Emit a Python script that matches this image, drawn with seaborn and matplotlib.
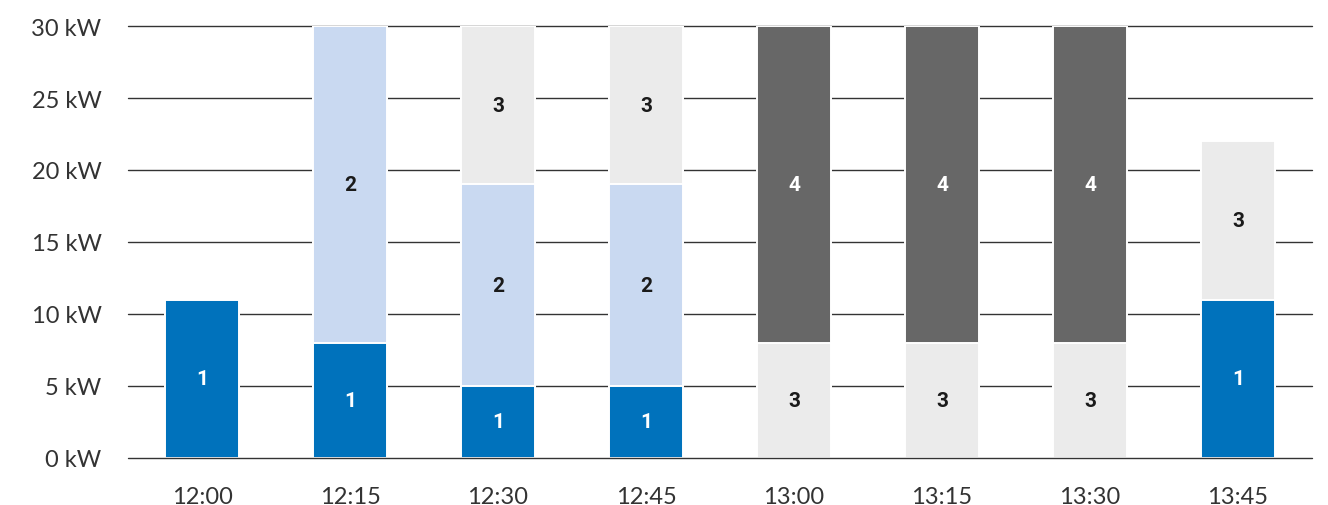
import matplotlib
matplotlib.use("Agg")
import matplotlib.pyplot as plt
import seaborn as sns
import pandas as pd
import numpy as np

categories = ["12:00", "12:15", "12:30", "12:45", "13:00", "13:15", "13:30", "13:45"]
series_names = ["1", "2", "3", "4"]
s1 = [11, 8, 5, 5, 0, 0, 0, 11]
s2 = [0, 22, 14, 14, 0, 0, 0, 0]
s3 = [0, 0, 11, 11, 8, 8, 8, 11]
s4 = [0, 0, 0, 0, 22, 22, 22, 0]
y_ticks = [0, 5, 10, 15, 20, 25, 30]
y_tick_labels = ["0 kW", "5 kW", "10 kW", "15 kW", "20 kW", "25 kW", "30 kW"]

colors = ["#0072BC", "#C9D9F1", "#EBEBEB", "#676767"]
text_colors = ["white", "#1a1a1a", "#1a1a1a", "white"]

sns.set_theme(style="white")
plt.rcParams["font.family"] = ["Lato", "DejaVu Sans"]

fig = plt.figure(figsize=(13.28, 5.06), dpi=100)
ax = fig.add_axes([128 / 1328, 1 - 459 / 506, (1312 - 128) / 1328, (459 - 27) / 506])

series = [s1, s2, s3, s4]
cum = np.cumsum(np.array(series), axis=0)

# gridlines behind bars (baseline on top)
for t in y_ticks:
    ax.axhline(t, color="#333333", lw=1.0, zorder=4 if t == 0 else 0, clip_on=False)

# draw cumulative bars from top level down so lower segments overlay
for k in range(len(series) - 1, -1, -1):
    df = pd.DataFrame({"time": categories, "value": cum[k]})
    sns.barplot(data=df, x="time", y="value", order=categories, color=colors[k],
                width=0.5, edgecolor="white", linewidth=1.4, saturation=1,
                ax=ax, zorder=2)

# segment labels
for k, s in enumerate(series):
    for i, v in enumerate(s):
        if v > 0:
            bottom = cum[k][i] - v
            ax.text(i, bottom + v / 2, series_names[k], ha="center", va="center",
                    fontsize=15, fontweight="bold", family=["Roboto", "DejaVu Sans"],
                    color=text_colors[k], zorder=3)

ax.set_ylim(0, 30)
ax.set_xlim(-0.5, len(categories) - 0.5)
ax.set_yticks(y_ticks)
ax.set_yticklabels(y_tick_labels)
ax.set_xlabel("")
ax.set_ylabel("")
ax.tick_params(axis="both", length=0, labelsize=17, labelcolor="#333333")
ax.tick_params(axis="y", pad=19)
ax.tick_params(axis="x", pad=20)
for sp in ax.spines.values():
    sp.set_visible(False)

fig.savefig("out.png", dpi=100)
